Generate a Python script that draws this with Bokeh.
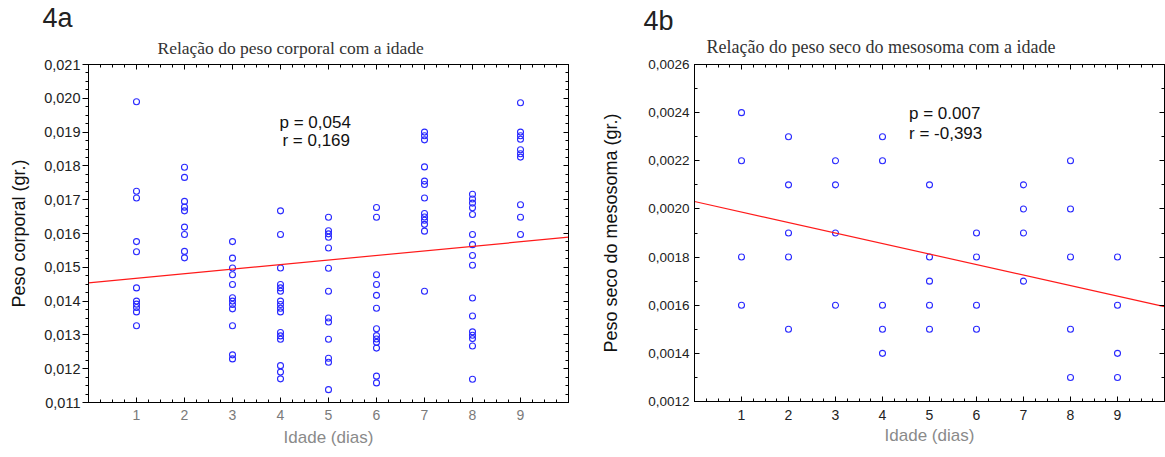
from bokeh.plotting import figure
from bokeh.layouts import row
from bokeh.models import LinearAxis, FixedTicker, CustomJSTickFormatter, Label, Range1d, Title
from bokeh.embed import file_html
from bokeh.resources import INLINE

# ---------------- data: 4a (peso corporal) ----------------
peso_d1 = [0.0199, 0.01725, 0.01705, 0.01576, 0.01546, 0.01439, 0.0140, 0.01391, 0.01381, 0.01368, 0.01327]
peso_d2 = [0.01796, 0.01766, 0.01695, 0.01678, 0.01667, 0.01619, 0.01597, 0.01547, 0.01528]
peso_d3 = [0.01576, 0.01527, 0.01498, 0.01478, 0.01449, 0.0141, 0.0140, 0.0139, 0.01377, 0.01327, 0.01241, 0.01229]
peso_d4 = [0.01667, 0.01597, 0.01498, 0.01449, 0.01439, 0.01429, 0.0140, 0.0139, 0.01379, 0.01368, 0.01307,
           0.01297, 0.01287, 0.01209, 0.0119, 0.0117]
peso_d5 = [0.01648, 0.01608, 0.01599, 0.01589, 0.01557, 0.01497, 0.01429, 0.0135, 0.01338, 0.01287, 0.01231,
           0.01219, 0.01138]
peso_d6 = [0.01677, 0.01648, 0.01478, 0.01449, 0.01417, 0.01379, 0.01318, 0.01298, 0.01288, 0.01278, 0.01261,
           0.01178, 0.01158]
peso_d7 = [0.0190, 0.01889, 0.01877, 0.01797, 0.01755, 0.01745, 0.01705, 0.01659, 0.01649, 0.01639, 0.01627,
           0.01607, 0.01429]
peso_d8 = [0.01716, 0.01702, 0.0169, 0.01676, 0.01656, 0.01597, 0.01567, 0.01535, 0.01506, 0.01409, 0.01356,
           0.01309, 0.01299, 0.01289, 0.01267, 0.01169]
peso_d9 = [0.01987, 0.0190, 0.01889, 0.01879, 0.01848, 0.01836, 0.01826, 0.01685, 0.01648, 0.01597]
peso_groups = [peso_d1, peso_d2, peso_d3, peso_d4, peso_d5, peso_d6, peso_d7, peso_d8, peso_d9]
fit_a_x = [0, 10]
fit_a_y = [0.01454, 0.01589]

# ---------------- data: 4b (peso seco do mesosoma) ----------------
meso_d1 = [0.0024, 0.0022, 0.0018, 0.0016]
meso_d2 = [0.0023, 0.0021, 0.0019, 0.0018, 0.0015]
meso_d3 = [0.0022, 0.0021, 0.0019, 0.0016]
meso_d4 = [0.0023, 0.0022, 0.0016, 0.0015, 0.0014]
meso_d5 = [0.0021, 0.0018, 0.0017, 0.0016, 0.0015]
meso_d6 = [0.0019, 0.0018, 0.0016, 0.0015]
meso_d7 = [0.0021, 0.0020, 0.0019, 0.0017]
meso_d8 = [0.0022, 0.0020, 0.0018, 0.0015, 0.0013]
meso_d9 = [0.0018, 0.0016, 0.0014, 0.0013]
meso_groups = [meso_d1, meso_d2, meso_d3, meso_d4, meso_d5, meso_d6, meso_d7, meso_d8, meso_d9]
fit_b_x = [0, 10]
fit_b_y = [0.002031, 0.001594]

dias = [1, 2, 3, 4, 5, 6, 7, 8, 9]
yticks_a = [0.011, 0.012, 0.013, 0.014, 0.015, 0.016, 0.017, 0.018, 0.019, 0.020, 0.021]
yticks_b = [0.0012, 0.0014, 0.0016, 0.0018, 0.0020, 0.0022, 0.0024, 0.0026]


def flatten(groups):
    xs, ys = [], []
    for d, vals in zip(dias, groups):
        xs += [d] * len(vals)
        ys += vals
    return xs, ys


SANS = "Liberation Sans"
SERIF = "Liberation Serif"


def build(groups, fit_x, fit_y, yticks, ymin, ymax, ystep_minor, ndec,
          fw, fh, bl, br, bt, bb, ytick_out, ylab_standoff, xlab_standoff, xtick_color, ytick_fs,
          ylabel, ylabel_standoff, xlabel_standoff):
    p = figure(frame_width=fw, frame_height=fh, min_border_left=bl, min_border_right=br,
               min_border_top=bt, min_border_bottom=bb, x_range=Range1d(0, 10),
               y_range=Range1d(ymin, ymax), toolbar_location=None, output_backend="svg",
               background_fill_color="white", border_fill_color="white")
    p.grid.visible = False
    p.outline_line_color = "black"
    p.outline_line_width = 1

    xminor = [i * 0.25 for i in range(41)]
    nmin = int(round((ymax - ymin) / ystep_minor))
    yminor = [ymin + i * ystep_minor for i in range(nmin + 1)]
    xt = FixedTicker(ticks=dias, minor_ticks=xminor)
    yt = FixedTicker(ticks=yticks, minor_ticks=yminor)
    fmt = CustomJSTickFormatter(code="return tick.toFixed(%d).replace('.', ',');" % ndec)
    blank = CustomJSTickFormatter(code="return '';")

    xa = p.xaxis[0]
    xa.ticker = xt
    xa.major_tick_in = 5
    xa.major_tick_out = 0
    xa.minor_tick_in = 3
    xa.minor_tick_out = 0
    xa.major_label_standoff = xlab_standoff
    xa.major_label_text_font = SANS
    xa.major_label_text_font_size = "14px"
    xa.major_label_text_color = xtick_color
    xa.axis_line_color = "black"
    xa.axis_label = "Idade (dias)"
    xa.axis_label_text_font = SANS
    xa.axis_label_text_font_size = "17px"
    xa.axis_label_text_font_style = "normal"
    xa.axis_label_text_color = "#8a8a8a"
    xa.axis_label_standoff = xlabel_standoff

    ya = p.yaxis[0]
    ya.ticker = yt
    ya.formatter = fmt
    if ytick_out:
        ya.major_tick_in = 0
        ya.major_tick_out = 6
        ya.minor_tick_in = 0
        ya.minor_tick_out = 3
    else:
        ya.major_tick_in = 5
        ya.major_tick_out = 0
        ya.minor_tick_in = 3
        ya.minor_tick_out = 0
    ya.major_label_standoff = ylab_standoff
    ya.major_label_text_font = SANS
    ya.major_label_text_font_size = ytick_fs
    ya.major_label_text_color = "#222222"
    ya.axis_line_color = "black"
    ya.axis_label = ylabel
    ya.axis_label_text_font = SANS
    ya.axis_label_text_font_size = "18px"
    ya.axis_label_text_font_style = "normal"
    ya.axis_label_text_color = "#111111"
    ya.axis_label_standoff = ylabel_standoff

    top = LinearAxis(ticker=FixedTicker(ticks=dias, minor_ticks=xminor), formatter=blank,
                     major_tick_in=5, major_tick_out=0, minor_tick_in=3, minor_tick_out=0,
                     major_label_text_font_size="1px", major_label_standoff=0)
    right = LinearAxis(ticker=FixedTicker(ticks=yticks, minor_ticks=yminor), formatter=blank,
                       major_tick_in=5, major_tick_out=0, minor_tick_in=3, minor_tick_out=0,
                       major_label_text_font_size="1px", major_label_standoff=0)
    p.add_layout(top, "above")
    p.add_layout(right, "right")

    xs, ys = flatten(groups)
    p.scatter(xs, ys, marker="circle", size=6, fill_color=None, line_color="#2a2aff", line_width=1.1)
    p.line(fit_x, fit_y, line_color="#ff1a1a", line_width=1.2)
    return p


pa = build(peso_groups, fit_a_x, fit_a_y, yticks_a, 0.011, 0.021, 0.00025, 3,
           480, 338, 88, 30, 64, 53, True, 2, 7, "#7a7a7a", "14.5px",
           "Peso corporal (gr.)", 12, 5)
pb = build(meso_groups, fit_b_x, fit_b_y, yticks_b, 0.0012, 0.0026, 0.0001, 4,
           470, 337, 95, 2, 60, 58, False, 5, 8, "#222222", "13.5px",
           "Peso seco do mesosoma (gr.)", 24, 3)


def add_title(p, text, font, size, color, offset, standoff):
    p.add_layout(Title(text=text, text_font=font, text_font_size=size, text_color=color,
                       text_font_style="normal", align="left", offset=offset, standoff=standoff), "above")


# 4a titles
add_title(pa, "Relação do peso corporal com a idade", SERIF, "17.5px", "#333333", 69, 13)
add_title(pa, "4a", SANS, "27px", "#222222", -46, -7)
# 4b titles
add_title(pb, "Relação do peso seco do mesosoma com a idade", SERIF, "18px", "#333333", 12, 16)
add_title(pb, "4b", SANS, "27px", "#222222", -51, -19)


def add_text(p, x, y, text):
    p.add_layout(Label(x=x, y=y, text=text, text_font=SANS, text_font_size="17px", text_color="#111111",
                       text_align="left", text_baseline="middle"))


add_text(pa, 3.98, 0.019293, "p = 0,054")
add_text(pa, 4.04, 0.018737, "r = 0,169")
add_text(pb, 4.564, 0.0023977, "p = 0.007")
add_text(pb, 4.564, 0.0023147, "r = -0,393")

layout = row(pa, pb)
open("out.html", "w").write(file_html(layout, INLINE))
